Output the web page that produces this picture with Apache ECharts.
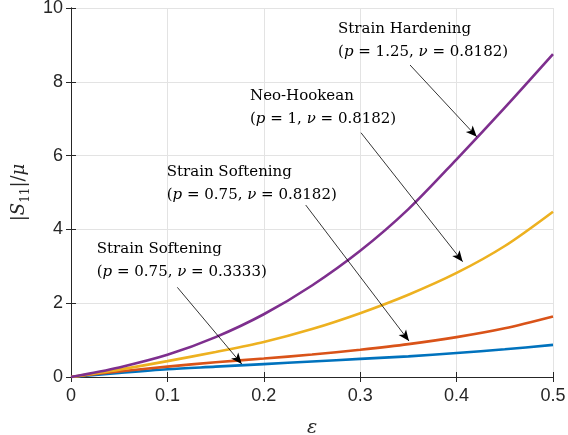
<!DOCTYPE html>
<html>
<head>
<meta charset="utf-8">
<script src="https://cdn.jsdelivr.net/npm/echarts@6/dist/echarts.min.js"></script>
<style>html,body{margin:0;padding:0;background:#fff}#c{width:568px;height:435px}</style>
</head>
<body>
<div id="c"></div>
<script>
// strain values
const strain = [0, 0.05, 0.1, 0.15, 0.2, 0.25, 0.3, 0.35, 0.4, 0.45, 0.5];
// |S11|/mu for each model
const softNu3333 = [0, 0.11, 0.21, 0.28, 0.35, 0.42, 0.49, 0.56, 0.65, 0.75, 0.87];
const softNu8182 = [0, 0.15, 0.28, 0.40, 0.50, 0.61, 0.74, 0.89, 1.08, 1.32, 1.64];
const neoHookean = [0, 0.20, 0.43, 0.68, 0.95, 1.30, 1.73, 2.23, 2.82, 3.55, 4.48];
const hardening  = [0, 0.26, 0.60, 1.08, 1.70, 2.48, 3.42, 4.55, 5.90, 7.30, 8.75];
// tick labels
const xTickLabels = ['0', '0.1', '0.2', '0.3', '0.4', '0.5'];
const yTickLabels = ['0', '2', '4', '6', '8', '10'];

// annotations (data coordinates)
const annotations = [
  { text: 'Strain Hardening\n({i|p} = 1.25, {i|ν} = 0.8182)', at: [0.277, 9.12], from: [0.3517, 8.455], to: [0.4209, 6.51] },
  { text: 'Neo-Hookean\n({i|p} = 1, {i|ν} = 0.8182)', at: [0.1857, 7.30], from: [0.3008, 6.62], to: [0.4063, 3.125] },
  { text: 'Strain Softening\n({i|p} = 0.75, {i|ν} = 0.8182)', at: [0.0993, 5.23], from: [0.2435, 4.66], to: [0.3506, 0.976] },
  { text: 'Strain Softening\n({i|p} = 0.75, {i|ν} = 0.3333)', at: [0.0267, 3.155], from: [0.1103, 2.43], to: [0.1771, 0.352] }
];

const axisColor = '#262626';
const serif = 'DejaVu Serif';
const pair = arr => strain.map((x, i) => [x, arr[i]]);

function lineSeries(data, color) {
  return { type: 'line', data: pair(data), smooth: 0.3, showSymbol: false, symbol: 'none',
    lineStyle: { color: color, width: 2.6 }, itemStyle: { color: color }, silent: true, animation: false };
}

const chart = echarts.init(document.getElementById('c'), null, { renderer: 'canvas' });
const baseAxis = {
  axisLine: { show: true, lineStyle: { color: axisColor, width: 1 } },
  axisTick: { show: true, inside: true, length: 5, lineStyle: { color: axisColor } },
};
chart.setOption({
  animation: false,
  grid: { left: 71, right: 15, top: 8, bottom: 58, containLabel: false, outerBoundsMode: 'none' },
  xAxis: [
    Object.assign({}, baseAxis, {
      type: 'value', min: 0, max: 0.5, interval: 0.1, position: 'bottom',
      axisLabel: { color: axisColor, fontSize: 18, fontFamily: 'Liberation Sans', margin: 10,
        formatter: (v) => xTickLabels[Math.round(v * 10)] },
      splitLine: { show: true, lineStyle: { color: '#e3e3e3', width: 1 } },
      name: '{i|ε}', nameLocation: 'middle', nameGap: 42,
      nameTextStyle: { rich: { i: { fontFamily: serif, fontStyle: 'italic', fontSize: 19, color: axisColor } } }
    }),
    Object.assign({}, baseAxis, {
      type: 'value', min: 0, max: 0.5, interval: 0.1, position: 'top',
      axisLabel: { show: false }, splitLine: { show: false }
    })
  ],
  yAxis: [
    Object.assign({}, baseAxis, {
      type: 'value', min: 0, max: 10, interval: 2, position: 'left',
      axisLabel: { color: axisColor, fontSize: 18, fontFamily: 'Liberation Sans', margin: 8,
        formatter: (v) => yTickLabels[Math.round(v / 2)] },
      splitLine: { show: true, lineStyle: { color: '#e3e3e3', width: 1 } },
      name: '|{i|S}{s|11}|/{i|μ}', nameLocation: 'middle', nameGap: 27, nameRotate: 90,
      nameTextStyle: { fontFamily: serif, fontSize: 18, color: axisColor,
        rich: {
          i: { fontFamily: serif, fontStyle: 'italic', fontSize: 18, color: axisColor },
          s: { fontFamily: serif, fontSize: 12, color: axisColor, verticalAlign: 'bottom', lineHeight: 26 }
        } }
    }),
    Object.assign({}, baseAxis, {
      type: 'value', min: 0, max: 10, interval: 2, position: 'right',
      axisLabel: { show: false }, splitLine: { show: false }
    })
  ],
  series: [
    lineSeries(softNu3333, '#0072BD'),
    lineSeries(softNu8182, '#D95319'),
    lineSeries(neoHookean, '#EDB120'),
    lineSeries(hardening, '#7E2F8E'),
    {
      type: 'line', data: [], z: 10, silent: true,
      markLine: {
        silent: true, animation: false,
        symbol: ['none', 'arrow'], symbolSize: [7, 11],
        lineStyle: { color: '#000', width: 0.8, type: 'solid' },
        label: { show: false },
        data: annotations.map(a => [{ coord: a.from }, { coord: a.to }])
      },
      markPoint: {
        silent: true, animation: false, symbol: 'circle', symbolSize: 0,
        data: annotations.map(a => ({
          coord: a.at,
          label: {
            show: true, position: 'right', distance: 0, formatter: a.text,
            fontFamily: serif, fontSize: 15, lineHeight: 23, color: '#000', align: 'left',
            rich: { i: { fontFamily: serif, fontStyle: 'italic', fontSize: 15, lineHeight: 23, color: '#000' } }
          }
        }))
      }
    }
  ]
});
</script>
</body>
</html>
